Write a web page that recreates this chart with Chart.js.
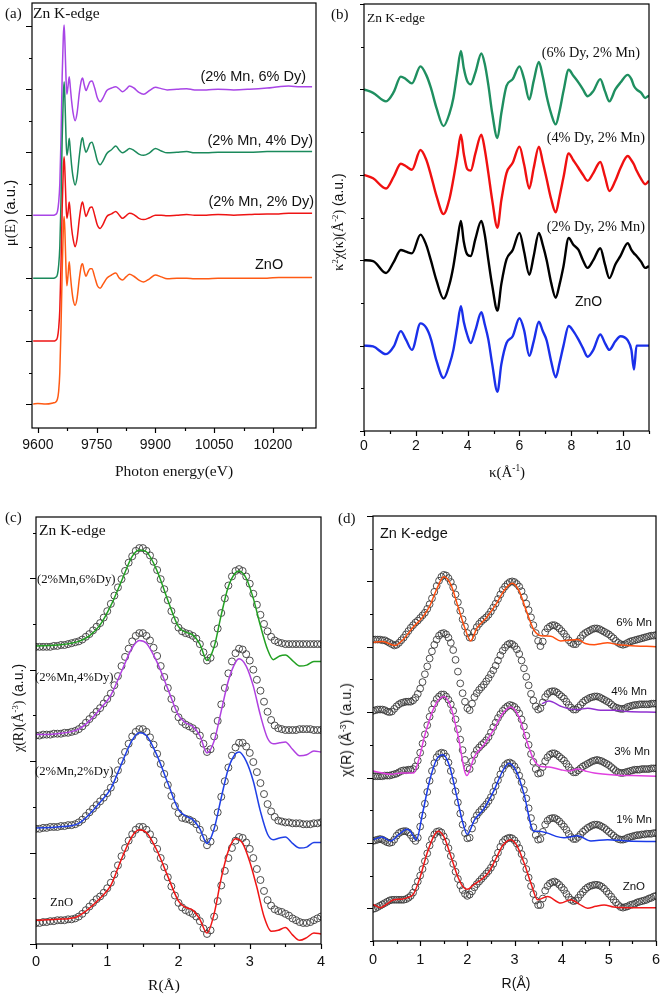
<!DOCTYPE html>
<html>
<head>
<meta charset="utf-8">
<script src="https://cdn.jsdelivr.net/npm/chart.js@4.4.1/dist/chart.umd.min.js"></script>
<style>
  html, body { margin: 0; padding: 0; background: #fff; }
  #fig { position: relative; width: 661px; height: 994px; overflow: hidden; }
  canvas { position: absolute; }
  .t { position: absolute; white-space: nowrap; line-height: 1; color: #111; }
  .serif { font-family: "Liberation Serif", "DejaVu Serif", serif; }
  .sans { font-family: "Liberation Sans", Arial, sans-serif; }
  .c { transform: translate(-50%, -50%); }
  .rot { transform: translate(-50%, -50%) rotate(-90deg); }
  sup { font-size: 0.62em; vertical-align: 0.55em; line-height: 0; }
</style>
</head>
<body>
<div id="fig">
  <canvas id="chartA" width="320" height="460" style="left:0;top:0"></canvas>
  <canvas id="chartB" width="322" height="465" style="left:332px;top:0"></canvas>
  <canvas id="chartC" width="327" height="980" style="left:0;top:0"></canvas>
  <canvas id="chartD" width="321" height="480" style="left:340px;top:500px"></canvas>

  <!-- panel (a) -->
  <div class="t serif" style="left:5px;top:6px;font-size:15px">(a)</div>
  <div class="t serif" style="left:33px;top:5px;font-size:15.5px">Zn K-edge</div>
  <div class="t sans" style="right:355px;top:69px;font-size:14.5px">(2% Mn, 6% Dy)</div>
  <div class="t sans" style="right:348px;top:133px;font-size:14.5px">(2% Mn, 4% Dy)</div>
  <div class="t sans" style="right:347px;top:194px;font-size:14.5px">(2% Mn, 2% Dy)</div>
  <div class="t sans" style="left:255px;top:257px;font-size:14.5px">ZnO</div>
  <div class="t rot" style="left:10px;top:213px;font-size:15px"><span class="serif">μ(E)</span><span class="sans"> (a.u.)</span></div>
  <div class="t serif c" style="left:174px;top:471px;font-size:15.5px">Photon energy(eV)</div>

  <!-- panel (b) -->
  <div class="t serif" style="left:331px;top:7px;font-size:15px">(b)</div>
  <div class="t serif" style="left:367px;top:11px;font-size:13.5px">Zn K-edge</div>
  <div class="t serif" style="right:21px;top:45px;font-size:14.3px">(6% Dy, 2% Mn)</div>
  <div class="t serif" style="right:16px;top:130px;font-size:14.3px">(4% Dy, 2% Mn)</div>
  <div class="t serif" style="right:16px;top:219px;font-size:14.3px">(2% Dy, 2% Mn)</div>
  <div class="t sans" style="left:575px;top:294px;font-size:14px">ZnO</div>
  <div class="t rot" style="left:338px;top:222px;font-size:14px"><span class="serif">κ<sup>2</sup>χ(κ)(Å<sup>-2</sup>)</span><span class="sans"> (a.u.)</span></div>
  <div class="t serif c" style="left:507px;top:472px;font-size:15px">κ(Å<sup>-1</sup>)</div>

  <!-- panel (c) -->
  <div class="t serif" style="left:5px;top:510px;font-size:15px">(c)</div>
  <div class="t serif" style="left:39px;top:522px;font-size:15.5px">Zn K-edge</div>
  <div class="t serif" style="left:37px;top:573px;font-size:12.7px">(2%Mn,6%Dy)</div>
  <div class="t serif" style="left:35px;top:671px;font-size:12.7px">(2%Mn,4%Dy)</div>
  <div class="t serif" style="left:35px;top:765px;font-size:12.7px">(2%Mn,2%Dy)</div>
  <div class="t serif" style="left:50px;top:896px;font-size:12.7px">ZnO</div>
  <div class="t rot" style="left:18px;top:708px;font-size:14px"><span class="serif">χ(R)(Å<sup>-3</sup>)</span><span class="sans"> (a.u.)</span></div>
  <div class="t serif c" style="left:164px;top:985px;font-size:15.5px">R(Å)</div>

  <!-- panel (d) -->
  <div class="t serif" style="left:338px;top:511px;font-size:15px">(d)</div>
  <div class="t sans" style="left:380px;top:526px;font-size:14.5px">Zn K-edge</div>
  <div class="t sans" style="right:9px;top:617px;font-size:11.5px">6% Mn</div>
  <div class="t sans" style="right:14px;top:686px;font-size:11.5px">4% Mn</div>
  <div class="t sans" style="right:11px;top:746px;font-size:11.5px">3% Mn</div>
  <div class="t sans" style="right:9px;top:814px;font-size:11.5px">1% Mn</div>
  <div class="t sans" style="right:16px;top:881px;font-size:11.5px">ZnO</div>
  <div class="t sans rot" style="left:346px;top:730px;font-size:14px">χ(R) (Å<sup>-3</sup>) (a.u.)</div>
  <div class="t sans c" style="left:516px;top:983px;font-size:14px">R(Å)</div>
</div>

<script>
// ---------- (a) XANES, normalised and stacked ----------
const energyA = [9588, 9600, 9620, 9640, 9645, 9650, 9653, 9656, 9659, 9662, 9665, 9667, 9669, 9672, 9674, 9677, 9680, 9683, 9686, 9690,
    9695, 9700, 9706, 9711, 9714, 9718, 9723, 9728, 9733, 9738, 9745, 9752, 9759, 9766, 9776, 9788, 9799, 9808, 9816, 9825,
    9834, 9845, 9858, 9870, 9885, 9900, 9915, 9930, 9955, 9980, 10000, 10030, 10060, 10100, 10140, 10185, 10215, 10240, 10270, 10300];
const muDy6 = [3.0, 3.0, 3.0, 3.0, 3.01, 3.06, 3.2, 3.5, 4.2, 5.2, 5.85, 6.02, 5.75, 5.15, 4.92, 5.05, 5.2, 5.02, 4.82, 4.62,
    4.5, 4.62, 4.95, 5.14, 5.18, 5.08, 4.98, 5.05, 5.12, 5.13, 5.02, 4.86, 4.8, 4.86, 4.98, 5.02, 5.04, 5.0, 4.96, 5.0,
    5.05, 5.02, 4.95, 4.92, 4.98, 5.03, 5.01, 4.99, 5.0, 5.01, 4.99, 4.99, 5.0, 4.99, 5.0, 5.02, 5.04, 5.05, 5.04, 5.04];
const muDy4 = [2.0, 2.0, 2.0, 2.0, 2.01, 2.06, 2.2, 2.5, 3.2, 4.2, 4.9, 5.12, 4.85, 4.2, 3.95, 4.05, 4.22, 4.02, 3.8, 3.6,
    3.48, 3.6, 3.95, 4.18, 4.23, 4.1, 4.0, 4.06, 4.14, 4.16, 4.03, 3.86, 3.8, 3.86, 3.98, 4.04, 4.1, 4.03, 3.99, 4.02,
    4.06, 4.03, 3.97, 3.95, 3.99, 4.06, 4.02, 3.99, 4.0, 4.01, 3.99, 3.99, 4.0, 4.0, 4.0, 4.01, 4.01, 4.01, 4.01, 4.01];
const muDy2 = [1.0, 1.0, 1.0, 1.0, 1.01, 1.06, 1.2, 1.5, 2.2, 3.1, 3.75, 3.93, 3.7, 3.15, 2.95, 3.05, 3.21, 3.02, 2.8, 2.62,
    2.5, 2.62, 2.95, 3.16, 3.21, 3.1, 2.98, 3.05, 3.12, 3.13, 3.0, 2.84, 2.79, 2.85, 2.98, 3.02, 3.06, 3.0, 2.95, 2.99,
    3.03, 3.01, 2.95, 2.93, 2.96, 3.0, 3.0, 2.99, 3.0, 3.01, 3.0, 3.0, 3.01, 3.0, 3.01, 3.02, 3.02, 3.03, 3.03, 3.03];
const muZnO = [0.0, 0.01, 0.0, 0.02, 0.03, 0.08, 0.2, 0.5, 1.2, 2.1, 2.8, 2.98, 2.75, 2.1, 1.88, 2.05, 2.26, 2.05, 1.85, 1.66,
    1.57, 1.68, 2.0, 2.2, 2.23, 2.12, 2.03, 2.1, 2.15, 2.15, 2.02, 1.88, 1.84, 1.9, 2.0, 2.05, 2.08, 2.0, 1.97, 2.02,
    2.06, 2.03, 1.97, 1.94, 1.99, 2.05, 2.02, 1.99, 2.0, 2.0, 1.99, 1.99, 2.0, 2.0, 2.0, 2.0, 2.01, 2.01, 2.01, 2.01];

// ---------- (b) k^2 chi(k), stacked ----------
const kGrid = [0, 0.35, 0.85, 1.15, 1.42, 1.62, 1.85, 2.18, 2.4, 2.58, 2.8, 3.07, 3.3, 3.45, 3.6, 3.74, 3.85, 3.98, 4.12, 4.3,
    4.53, 4.66, 4.8, 4.95, 5.15, 5.3, 5.5, 5.74, 6.0, 6.18, 6.38, 6.55, 6.75, 6.9, 7.05, 7.22, 7.4, 7.55, 7.7, 7.9,
    8.08, 8.28, 8.45, 8.63, 8.85, 9.12, 9.3, 9.47, 9.7, 9.9, 10.18, 10.32, 10.42, 10.52, 10.7, 10.85, 11.0];
const chiDy6 = [3.0, 2.96, 2.86, 2.97, 3.15, 3.12, 3.07, 3.27, 3.17, 3.02, 2.78, 2.57, 2.72, 2.9, 3.2, 3.45, 3.25, 3.1, 3.06, 3.2,
    3.42, 3.3, 3.05, 2.72, 2.43, 2.72, 3.04, 3.12, 3.27, 3.12, 2.88, 3.1, 3.32, 3.15, 2.92, 2.72, 2.59, 2.75, 2.98, 3.23,
    3.16, 3.08, 3.0, 2.92, 2.98, 3.12, 2.98, 2.86, 3.0, 3.08, 3.17, 3.12, 3.04, 3.0, 2.96, 2.9, 2.93];
const chiDy4 = [2.0, 1.96, 1.84, 1.98, 2.13, 2.1, 2.06, 2.29, 2.18, 2.0, 1.75, 1.54, 1.72, 1.95, 2.22, 2.47, 2.25, 2.07, 2.05, 2.25,
    2.47, 2.3, 2.02, 1.7, 1.38, 1.7, 2.02, 2.14, 2.33, 2.12, 1.84, 2.08, 2.33, 2.15, 1.95, 1.72, 1.56, 1.75, 1.97, 2.25,
    2.17, 2.08, 2.0, 1.93, 2.02, 2.15, 1.98, 1.81, 1.93, 2.08, 2.22, 2.17, 2.12, 2.05, 1.95, 1.89, 1.93];
const chiDy2 = [1.0, 0.99, 0.85, 0.98, 1.12, 1.1, 1.08, 1.3, 1.18, 1.0, 0.76, 0.55, 0.72, 0.93, 1.22, 1.46, 1.22, 1.07, 1.05, 1.25,
    1.46, 1.3, 1.0, 0.7, 0.41, 0.72, 1.01, 1.12, 1.32, 1.1, 0.83, 1.05, 1.32, 1.18, 1.0, 0.74, 0.56, 0.72, 0.93, 1.26,
    1.18, 1.12, 1.0, 0.91, 1.0, 1.14, 0.95, 0.79, 0.95, 1.05, 1.2, 1.12, 1.08, 1.05, 0.98, 0.91, 0.93];
const chiZnO = [0.0, -0.01, -0.1, -0.01, 0.17, 0.07, -0.05, 0.26, 0.21, 0.08, -0.18, -0.38, -0.22, -0.05, 0.22, 0.46, 0.28, 0.13, 0.03, 0.18,
    0.39, 0.25, 0.07, -0.22, -0.54, -0.22, 0.03, 0.11, 0.32, 0.18, -0.12, 0.05, 0.28, 0.17, 0.06, -0.18, -0.37, -0.2, 0.0, 0.23,
    0.17, 0.07, -0.03, -0.13, -0.05, 0.13, 0.03, -0.05, 0.05, 0.11, 0.06, -0.05, -0.28, 0.0, 0.0, 0.0, 0.0];

// ---------- (c) |chi(R)| data (circles) and fits, Dy series ----------
const rGridC = [0, 0.05, 0.1, 0.15, 0.2, 0.25, 0.3, 0.35, 0.4, 0.45, 0.5, 0.55, 0.6, 0.65, 0.7, 0.75, 0.8, 0.85, 0.9, 0.95,
    1, 1.05, 1.1, 1.15, 1.2, 1.25, 1.3, 1.35, 1.4, 1.45, 1.5, 1.55, 1.6, 1.65, 1.7, 1.75, 1.8, 1.85, 1.9, 1.95,
    2, 2.05, 2.1, 2.15, 2.2, 2.25, 2.3, 2.35, 2.4, 2.45, 2.5, 2.55, 2.6, 2.65, 2.7, 2.75, 2.8, 2.85, 2.9, 2.95,
    3, 3.05, 3.1, 3.15, 3.2, 3.25, 3.3, 3.35, 3.4, 3.45, 3.5, 3.55, 3.6, 3.65, 3.7, 3.75, 3.8, 3.85, 3.9, 3.95, 4];
const expZnO_c = [0.23, 0.23, 0.24, 0.24, 0.25, 0.25, 0.26, 0.26, 0.26, 0.27, 0.27, 0.28, 0.30, 0.33, 0.37, 0.41, 0.45, 0.49, 0.52, 0.56,
    0.61, 0.67, 0.76, 0.86, 0.96, 1.05, 1.13, 1.20, 1.25, 1.28, 1.28, 1.25, 1.20, 1.13, 1.04, 0.94, 0.84, 0.73, 0.63, 0.53,
    0.45, 0.40, 0.37, 0.35, 0.33, 0.30, 0.25, 0.17, 0.11, 0.15, 0.30, 0.47, 0.64, 0.80, 0.94, 1.05, 1.13, 1.17, 1.16, 1.11,
    1.04, 0.94, 0.82, 0.70, 0.58, 0.48, 0.42, 0.38, 0.36, 0.35, 0.33, 0.31, 0.28, 0.26, 0.24, 0.23, 0.23, 0.24, 0.26, 0.28, 0.30];
const expDy2_c = [1.26, 1.26, 1.27, 1.27, 1.28, 1.28, 1.28, 1.29, 1.29, 1.30, 1.30, 1.31, 1.33, 1.36, 1.40, 1.44, 1.48, 1.52, 1.56, 1.60,
    1.65, 1.71, 1.80, 1.90, 2.00, 2.10, 2.19, 2.27, 2.32, 2.35, 2.35, 2.32, 2.26, 2.18, 2.08, 1.97, 1.86, 1.74, 1.62, 1.51,
    1.43, 1.38, 1.37, 1.36, 1.34, 1.31, 1.25, 1.16, 1.08, 1.12, 1.27, 1.44, 1.61, 1.78, 1.93, 2.06, 2.15, 2.20, 2.20, 2.16,
    2.09, 1.99, 1.88, 1.76, 1.64, 1.53, 1.45, 1.39, 1.35, 1.34, 1.33, 1.33, 1.32, 1.32, 1.32, 1.31, 1.31, 1.31, 1.32, 1.32, 1.33];
const expDy4_c = [2.28, 2.28, 2.29, 2.29, 2.29, 2.30, 2.30, 2.30, 2.31, 2.31, 2.32, 2.33, 2.35, 2.38, 2.42, 2.46, 2.50, 2.54, 2.58, 2.63,
    2.68, 2.74, 2.83, 2.93, 3.04, 3.14, 3.23, 3.31, 3.37, 3.40, 3.40, 3.37, 3.32, 3.24, 3.15, 3.04, 2.92, 2.80, 2.68, 2.57,
    2.48, 2.43, 2.40, 2.38, 2.36, 2.33, 2.28, 2.19, 2.10, 2.13, 2.27, 2.44, 2.62, 2.80, 2.96, 3.09, 3.18, 3.23, 3.22, 3.17,
    3.10, 3.00, 2.89, 2.77, 2.65, 2.54, 2.45, 2.39, 2.36, 2.35, 2.34, 2.34, 2.34, 2.34, 2.35, 2.35, 2.35, 2.35, 2.34, 2.34, 2.34];
const expDy6_c = [3.25, 3.25, 3.25, 3.25, 3.25, 3.26, 3.26, 3.27, 3.27, 3.28, 3.29, 3.30, 3.31, 3.33, 3.36, 3.39, 3.43, 3.47, 3.51, 3.57,
    3.64, 3.72, 3.81, 3.90, 3.99, 4.08, 4.17, 4.24, 4.30, 4.33, 4.33, 4.30, 4.25, 4.18, 4.09, 3.99, 3.88, 3.76, 3.64, 3.54,
    3.46, 3.42, 3.40, 3.39, 3.37, 3.34, 3.28, 3.19, 3.10, 3.13, 3.28, 3.45, 3.62, 3.78, 3.92, 4.02, 4.08, 4.10, 4.08, 4.02,
    3.94, 3.83, 3.71, 3.60, 3.50, 3.42, 3.36, 3.32, 3.30, 3.29, 3.28, 3.28, 3.28, 3.28, 3.28, 3.28, 3.28, 3.28, 3.28, 3.28, 3.28];
const fitZnO_c = [[0, 0.26], [0.3, 0.27], [0.55, 0.29], [0.7, 0.36], [0.9, 0.5], [1.05, 0.64], [1.2, 0.93], [1.35, 1.18], [1.45, 1.25], [1.55, 1.22],
    [1.7, 1.02], [1.85, 0.74], [2.0, 0.47], [2.1, 0.4], [2.2, 0.37], [2.3, 0.27], [2.4, 0.12], [2.5, 0.33], [2.6, 0.72], [2.7, 1.02],
    [2.8, 1.15], [2.9, 1.1], [3.0, 0.9], [3.1, 0.62], [3.2, 0.3], [3.3, 0.14], [3.4, 0.15], [3.5, 0.18], [3.6, 0.1], [3.7, 0.04],
    [3.8, 0.07], [3.9, 0.12], [4.0, 0.11]];
const fitDy2_c = [[0, 1.27], [0.3, 1.28], [0.6, 1.32], [0.75, 1.42], [0.9, 1.55], [1.05, 1.7], [1.2, 1.97], [1.35, 2.23], [1.45, 2.31], [1.55, 2.28],
    [1.7, 2.06], [1.85, 1.76], [2.0, 1.47], [2.1, 1.4], [2.2, 1.36], [2.3, 1.26], [2.4, 1.1], [2.5, 1.26], [2.6, 1.6], [2.7, 1.92],
    [2.8, 2.08], [2.85, 2.1], [2.95, 2.0], [3.05, 1.78], [3.15, 1.45], [3.25, 1.2], [3.33, 1.14], [3.42, 1.16], [3.5, 1.17], [3.6, 1.1],
    [3.7, 1.05], [3.8, 1.06], [3.9, 1.11], [4.0, 1.11]];
const fitDy4_c = [[0, 2.29], [0.3, 2.3], [0.6, 2.35], [0.75, 2.44], [0.9, 2.57], [1.05, 2.72], [1.2, 2.98], [1.35, 3.24], [1.45, 3.32], [1.55, 3.29],
    [1.7, 3.08], [1.85, 2.79], [2.0, 2.5], [2.1, 2.42], [2.2, 2.38], [2.3, 2.28], [2.4, 2.09], [2.5, 2.22], [2.6, 2.55], [2.7, 2.88],
    [2.8, 3.08], [2.85, 3.12], [2.95, 3.04], [3.05, 2.82], [3.15, 2.5], [3.25, 2.25], [3.33, 2.19], [3.42, 2.2], [3.5, 2.21], [3.6, 2.13],
    [3.7, 2.06], [3.8, 2.07], [3.9, 2.11], [4.0, 2.1]];
const fitDy6_c = [[0, 3.26], [0.3, 3.27], [0.6, 3.31], [0.75, 3.37], [0.9, 3.49], [1.05, 3.7], [1.2, 3.97], [1.35, 4.24], [1.45, 4.31], [1.55, 4.29],
    [1.7, 4.08], [1.85, 3.76], [2.0, 3.47], [2.1, 3.41], [2.2, 3.38], [2.3, 3.28], [2.4, 3.1], [2.5, 3.25], [2.6, 3.6], [2.7, 3.91],
    [2.8, 4.06], [2.85, 4.08], [2.95, 4.0], [3.05, 3.78], [3.15, 3.48], [3.25, 3.22], [3.33, 3.11], [3.42, 3.15], [3.5, 3.16], [3.6, 3.1],
    [3.7, 3.04], [3.8, 3.05], [3.9, 3.09], [4.0, 3.09]];

// ---------- (d) |chi(R)| data (circles) and fits, Mn series ----------
const rGridD = [0, 0.05, 0.1, 0.15, 0.2, 0.25, 0.3, 0.35, 0.4, 0.45, 0.5, 0.55, 0.6, 0.65, 0.7, 0.75, 0.8, 0.85, 0.9, 0.95,
    1, 1.05, 1.1, 1.15, 1.2, 1.25, 1.3, 1.35, 1.4, 1.45, 1.5, 1.55, 1.6, 1.65, 1.7, 1.75, 1.8, 1.85, 1.9, 1.95,
    2, 2.05, 2.1, 2.15, 2.2, 2.25, 2.3, 2.35, 2.4, 2.45, 2.5, 2.55, 2.6, 2.65, 2.7, 2.75, 2.8, 2.85, 2.9, 2.95,
    3, 3.05, 3.1, 3.15, 3.2, 3.25, 3.3, 3.35, 3.4, 3.45, 3.5, 3.55, 3.6, 3.65, 3.7, 3.75, 3.8, 3.85, 3.9, 3.95,
    4, 4.05, 4.1, 4.15, 4.2, 4.25, 4.3, 4.35, 4.4, 4.45, 4.5, 4.55, 4.6, 4.65, 4.7, 4.75, 4.8, 4.85, 4.9, 4.95,
    5, 5.05, 5.1, 5.15, 5.2, 5.25, 5.3, 5.35, 5.4, 5.45, 5.5, 5.55, 5.6, 5.65, 5.7, 5.75, 5.8, 5.85, 5.9, 5.95, 6];
const expZnO_d = [-0.01, 0.00, 0.02, 0.04, 0.06, 0.08, 0.10, 0.12, 0.13, 0.13, 0.13, 0.13, 0.13, 0.13, 0.14, 0.16, 0.19, 0.24, 0.32, 0.41,
    0.50, 0.60, 0.72, 0.84, 0.96, 1.06, 1.13, 1.17, 1.18, 1.16, 1.10, 1.02, 0.92, 0.80, 0.68, 0.56, 0.45, 0.35, 0.28, 0.22,
    0.19, 0.21, 0.26, 0.32, 0.37, 0.41, 0.45, 0.49, 0.53, 0.57, 0.62, 0.68, 0.76, 0.85, 0.94, 1.01, 1.05, 1.07, 1.08, 1.07,
    1.04, 0.99, 0.92, 0.83, 0.72, 0.60, 0.47, 0.34, 0.22, 0.12, 0.05, 0.05, 0.15, 0.27, 0.34, 0.38, 0.40, 0.41, 0.39, 0.36,
    0.32, 0.28, 0.22, 0.17, 0.13, 0.11, 0.12, 0.16, 0.21, 0.25, 0.29, 0.32, 0.34, 0.35, 0.36, 0.36, 0.35, 0.33, 0.30, 0.26,
    0.22, 0.18, 0.13, 0.09, 0.05, 0.02, 0.01, 0.02, 0.03, 0.05, 0.06, 0.07, 0.09, 0.10, 0.11, 0.12, 0.13, 0.15, 0.16, 0.18, 0.19];
const expMn1_d = [1.03, 1.04, 1.05, 1.06, 1.05, 1.03, 1.01, 1.00, 1.01, 1.05, 1.11, 1.15, 1.17, 1.18, 1.18, 1.16, 1.12, 1.07, 1.03, 1.08,
    1.25, 1.42, 1.60, 1.78, 1.95, 2.10, 2.22, 2.31, 2.36, 2.38, 2.37, 2.32, 2.23, 2.10, 1.95, 1.79, 1.62, 1.45, 1.28, 1.15,
    1.07, 1.08, 1.22, 1.35, 1.42, 1.47, 1.51, 1.55, 1.59, 1.64, 1.70, 1.78, 1.87, 1.96, 2.05, 2.13, 2.19, 2.22, 2.23, 2.21,
    2.17, 2.11, 2.03, 1.93, 1.81, 1.68, 1.53, 1.38, 1.24, 1.12, 1.05, 1.06, 1.17, 1.28, 1.34, 1.37, 1.38, 1.38, 1.36, 1.33,
    1.29, 1.25, 1.20, 1.14, 1.09, 1.06, 1.06, 1.09, 1.13, 1.17, 1.20, 1.23, 1.25, 1.27, 1.28, 1.28, 1.27, 1.25, 1.23, 1.20,
    1.17, 1.14, 1.11, 1.08, 1.06, 1.05, 1.05, 1.06, 1.08, 1.09, 1.10, 1.11, 1.12, 1.12, 1.13, 1.13, 1.14, 1.14, 1.14, 1.15, 1.15];
const expMn3_d = [2.02, 2.02, 2.02, 2.02, 2.02, 2.03, 2.03, 2.03, 2.04, 2.05, 2.06, 2.08, 2.10, 2.11, 2.11, 2.12, 2.12, 2.13, 2.17, 2.26,
    2.38, 2.52, 2.66, 2.80, 2.93, 3.04, 3.13, 3.20, 3.24, 3.27, 3.27, 3.24, 3.19, 3.12, 3.02, 2.89, 2.74, 2.58, 2.42, 2.27,
    2.15, 2.13, 2.25, 2.35, 2.42, 2.46, 2.50, 2.53, 2.57, 2.62, 2.69, 2.77, 2.84, 2.91, 2.97, 3.02, 3.06, 3.09, 3.11, 3.10,
    3.08, 3.04, 2.98, 2.89, 2.78, 2.64, 2.50, 2.36, 2.24, 2.13, 2.06, 2.07, 2.16, 2.25, 2.31, 2.35, 2.37, 2.37, 2.35, 2.32,
    2.29, 2.26, 2.21, 2.16, 2.11, 2.08, 2.08, 2.11, 2.14, 2.17, 2.19, 2.21, 2.23, 2.25, 2.26, 2.27, 2.26, 2.25, 2.23, 2.21,
    2.19, 2.16, 2.13, 2.10, 2.08, 2.07, 2.07, 2.08, 2.09, 2.10, 2.11, 2.12, 2.12, 2.12, 2.13, 2.13, 2.13, 2.13, 2.14, 2.14, 2.14];
const expMn4_d = [3.02, 3.03, 3.04, 3.04, 3.04, 3.03, 3.01, 3.00, 3.01, 3.05, 3.09, 3.12, 3.14, 3.15, 3.16, 3.16, 3.16, 3.18, 3.22, 3.28,
    3.36, 3.46, 3.58, 3.70, 3.82, 3.93, 4.03, 4.11, 4.17, 4.20, 4.21, 4.19, 4.14, 4.06, 3.95, 3.80, 3.62, 3.44, 3.29, 3.16,
    3.06, 3.03, 3.13, 3.23, 3.29, 3.34, 3.38, 3.42, 3.47, 3.52, 3.58, 3.64, 3.71, 3.79, 3.87, 3.94, 3.99, 4.03, 4.05, 4.04,
    4.01, 3.96, 3.89, 3.79, 3.67, 3.54, 3.41, 3.28, 3.18, 3.09, 3.04, 3.06, 3.15, 3.23, 3.28, 3.31, 3.32, 3.32, 3.30, 3.27,
    3.24, 3.21, 3.16, 3.11, 3.07, 3.04, 3.04, 3.07, 3.11, 3.15, 3.18, 3.20, 3.22, 3.23, 3.24, 3.24, 3.23, 3.21, 3.19, 3.17,
    3.15, 3.12, 3.09, 3.07, 3.06, 3.05, 3.05, 3.06, 3.08, 3.09, 3.10, 3.11, 3.11, 3.12, 3.12, 3.12, 3.12, 3.12, 3.13, 3.13, 3.13];
const expMn6_d = [4.11, 4.11, 4.11, 4.11, 4.10, 4.10, 4.08, 4.06, 4.04, 4.02, 4.03, 4.06, 4.10, 4.14, 4.19, 4.24, 4.29, 4.33, 4.37, 4.40,
    4.44, 4.48, 4.52, 4.58, 4.65, 4.74, 4.84, 4.93, 5.01, 5.07, 5.10, 5.09, 5.05, 4.99, 4.91, 4.80, 4.68, 4.55, 4.42, 4.31,
    4.21, 4.14, 4.14, 4.23, 4.30, 4.35, 4.39, 4.42, 4.45, 4.49, 4.54, 4.60, 4.66, 4.73, 4.80, 4.87, 4.92, 4.96, 4.99, 5.00,
    4.99, 4.96, 4.92, 4.85, 4.76, 4.66, 4.56, 4.45, 4.33, 4.21, 4.09, 4.01, 4.08, 4.22, 4.28, 4.31, 4.33, 4.33, 4.31, 4.28,
    4.24, 4.20, 4.15, 4.10, 4.06, 4.04, 4.04, 4.08, 4.13, 4.18, 4.21, 4.23, 4.25, 4.27, 4.28, 4.28, 4.27, 4.25, 4.23, 4.21,
    4.19, 4.16, 4.13, 4.09, 4.06, 4.04, 4.03, 4.04, 4.06, 4.08, 4.09, 4.10, 4.11, 4.12, 4.13, 4.14, 4.15, 4.16, 4.17, 4.17, 4.18];
const fitZnO_d = [[0, 0.06], [0.16, 0.01], [0.3, 0.07], [0.44, 0.13], [0.6, 0.14], [0.72, 0.16], [0.86, 0.22], [1.0, 0.48], [1.15, 0.85], [1.3, 1.12],
    [1.38, 1.18], [1.5, 1.1], [1.65, 0.8], [1.8, 0.48], [1.92, 0.32], [2.0, 0.29], [2.15, 0.37], [2.3, 0.44], [2.45, 0.55], [2.6, 0.75],
    [2.75, 0.96], [2.92, 1.05], [3.05, 0.96], [3.2, 0.7], [3.35, 0.38], [3.49, 0.13], [3.7, 0.18], [3.98, 0.08], [4.19, 0.13], [4.38, 0.06],
    [4.55, 0.0], [4.72, 0.03], [4.9, 0.05], [5.1, 0.02], [5.4, 0.01], [6.0, 0.01]];
const fitMn1_d = [[0, 1.05], [0.19, 1.09], [0.37, 1.03], [0.55, 1.13], [0.72, 1.21], [0.79, 1.18], [0.92, 1.05], [1.05, 1.45], [1.2, 1.95], [1.35, 2.28],
    [1.49, 2.35], [1.62, 2.18], [1.78, 1.7], [1.9, 1.32], [2.0, 1.13], [2.15, 1.35], [2.35, 1.52], [2.55, 1.78], [2.75, 2.1], [2.88, 2.22],
    [3.05, 2.08], [3.2, 1.75], [3.41, 1.18], [3.52, 1.18], [3.7, 1.15], [3.88, 1.1], [4.05, 1.08], [4.34, 1.11], [4.62, 1.03], [4.97, 1.05],
    [5.4, 1.03], [6.0, 1.02]];
const fitMn3_d = [[0, 2.1], [0.2, 2.07], [0.37, 2.05], [0.6, 2.07], [0.86, 2.07], [0.97, 2.27], [1.1, 2.65], [1.3, 3.08], [1.5, 3.24], [1.65, 3.08],
    [1.8, 2.65], [1.99, 2.03], [2.15, 2.32], [2.35, 2.5], [2.55, 2.72], [2.75, 2.98], [2.92, 3.08], [3.1, 2.92], [3.25, 2.58], [3.41, 2.27],
    [3.56, 2.17], [3.73, 2.16], [3.98, 2.12], [4.15, 2.1], [4.34, 2.13], [4.5, 2.1], [4.69, 2.07], [5.12, 2.04], [5.5, 2.03], [6.0, 2.02]];
const fitMn4_d = [[3.58, 3.13], [3.73, 3.17], [3.98, 3.09], [4.15, 3.05], [4.34, 3.04], [4.55, 3.06], [4.83, 3.03], [5.1, 3.03], [5.4, 3.01], [6.0, 3.0]];
const fitMn6_d = [[0, 4.07], [0.2, 4.08], [0.47, 4.02], [0.65, 4.12], [0.85, 4.3], [1.05, 4.45], [1.2, 4.62], [1.35, 4.88], [1.5, 5.07], [1.65, 4.95],
    [1.8, 4.62], [1.95, 4.28], [2.07, 4.09], [2.2, 4.28], [2.4, 4.44], [2.6, 4.64], [2.8, 4.88], [2.95, 4.97], [3.1, 4.85], [3.25, 4.55],
    [3.41, 4.26], [3.56, 4.17], [3.77, 4.16], [3.98, 4.09], [4.15, 4.1], [4.34, 4.11], [4.5, 4.05], [4.69, 4.03], [4.85, 4.05], [4.97, 4.06],
    [5.2, 4.03], [5.4, 4.02], [6.0, 4.0]];

Chart.defaults.font.family = '"Liberation Sans", Arial, sans-serif';
Chart.defaults.color = '#111';

function isMultiple(v, m) {
    const q = v / m;
    return Math.abs(q - Math.round(q)) < 1e-6;
}

// box around the plot plus outward major / minor ticks
const frameTicks = {
    id: 'frameTicks',
    afterDraw(chart, args, opts) {
        const { ctx, chartArea: a, scales: { x, y } } = chart;
        ctx.save();
        ctx.strokeStyle = '#000';
        ctx.lineWidth = 1.2;
        ctx.strokeRect(a.left, a.top, a.right - a.left, a.bottom - a.top);
        ctx.beginPath();
        x.ticks.forEach(t => {
            const px = Math.round(x.getPixelForValue(t.value)) + 0.5;
            const len = isMultiple(t.value, opts.xMajor) ? opts.xLen[0] : opts.xLen[1];
            ctx.moveTo(px, a.bottom);
            ctx.lineTo(px, a.bottom + len);
        });
        y.ticks.forEach(t => {
            const py = Math.round(y.getPixelForValue(t.value)) + 0.5;
            const len = isMultiple(t.value, opts.yMajor) ? opts.yLen[0] : opts.yLen[1];
            ctx.moveTo(a.left, py);
            ctx.lineTo(a.left - len, py);
        });
        ctx.stroke();
        ctx.restore();
    }
};

function xy(xs, ys) {
    return xs.map((x, i) => ({ x: x, y: ys[i] }));
}
function pairs(list) {
    return list.map(p => ({ x: p[0], y: p[1] }));
}
function lineSet(data, color, width) {
    return {
        data: data, borderColor: color, borderWidth: width, pointRadius: 0, fill: false,
        cubicInterpolationMode: 'monotone', order: 0
    };
}
function circleSet(data, r) {
    return {
        data: data, showLine: false, pointStyle: 'circle', pointRadius: r, pointBorderWidth: 0.9,
        pointBorderColor: '#3a3a3a', pointBackgroundColor: 'rgba(255,255,255,0)', order: 1
    };
}

function makeChart(id, c) {
    return new Chart(document.getElementById(id), {
        type: 'line',
        data: { datasets: c.datasets },
        options: {
            responsive: false, animation: false,
            layout: { padding: c.pad },
            plugins: {
                legend: { display: false }, tooltip: { enabled: false },
                frameTicks: { xMajor: c.xMajor, yMajor: c.yMajor, xLen: c.xLen, yLen: c.yLen }
            },
            scales: {
                x: {
                    type: 'linear', min: c.xMin, max: c.xMax,
                    afterFit: s => { s.height = c.xAxisH; s.paddingLeft = 0; s.paddingRight = 0; },
                    grid: { display: false, drawTicks: false }, border: { display: false },
                    ticks: {
                        stepSize: c.xStep, autoSkip: false, includeBounds: false, maxRotation: 0,
                        padding: c.tickPad, color: '#111', font: { size: c.tickSize },
                        callback: v => isMultiple(v, c.xMajor) ? String(v) : ''
                    }
                },
                y: {
                    type: 'linear', min: c.yMin, max: c.yMax,
                    afterFit: s => { s.width = c.yAxisW; s.paddingTop = 0; s.paddingBottom = 0; },
                    grid: { display: false, drawTicks: false }, border: { display: false },
                    ticks: { stepSize: 0.5, display: false, includeBounds: false }
                }
            }
        },
        plugins: [frameTicks]
    });
}

// (a)
makeChart('chartA', {
    pad: { top: 3, right: 4, left: 0, bottom: 0 }, xAxisH: 32, yAxisW: 32,
    xMin: 9585, xMax: 10310, xStep: 75, xMajor: 150, yMin: -0.38, yMax: 6.37, yMajor: 1,
    xLen: [5, 3], yLen: [6, 3], tickPad: 9, tickSize: 14,
    datasets: [
        lineSet(xy(energyA, muZnO), '#ff5a14', 1.5),
        lineSet(xy(energyA, muDy2), '#ee1414', 1.5),
        lineSet(xy(energyA, muDy4), '#1b8a5c', 1.5),
        lineSet(xy(energyA, muDy6), '#a845e6', 1.5)
    ]
});

// (b)
makeChart('chartB', {
    pad: { top: 4, right: 5, left: 0, bottom: 0 }, xAxisH: 34, yAxisW: 32,
    xMin: 0, xMax: 11, xStep: 1, xMajor: 2, yMin: -1, yMax: 4, yMajor: 1,
    xLen: [5, 3], yLen: [4, 3], tickPad: 7, tickSize: 14,
    datasets: [
        lineSet(xy(kGrid, chiZnO), '#1a30ea', 2.4),
        lineSet(xy(kGrid, chiDy2), '#000000', 2.4),
        lineSet(xy(kGrid, chiDy4), '#f01010', 2.4),
        lineSet(xy(kGrid, chiDy6), '#1f8f60', 2.4)
    ]
});

// (c)
makeChart('chartC', {
    pad: { top: 517, right: 6, left: 0, bottom: 0 }, xAxisH: 36, yAxisW: 36,
    xMin: 0, xMax: 4, xStep: 0.5, xMajor: 1, yMin: 0, yMax: 4.67, yMajor: 1,
    xLen: [5, 3], yLen: [6, 3], tickPad: 9, tickSize: 14.5,
    datasets: [
        lineSet(pairs(fitZnO_c), '#f01515', 1.5),
        lineSet(pairs(fitDy2_c), '#2040e6', 1.5),
        lineSet(pairs(fitDy4_c), '#b040e0', 1.5),
        lineSet(pairs(fitDy6_c), '#22a022', 1.5),
        circleSet(xy(rGridC, expZnO_c), 3.5),
        circleSet(xy(rGridC, expDy2_c), 3.5),
        circleSet(xy(rGridC, expDy4_c), 3.5),
        circleSet(xy(rGridC, expDy6_c), 3.5)
    ]
});

// (d)
makeChart('chartD', {
    pad: { top: 16, right: 5, left: 0, bottom: 0 }, xAxisH: 39, yAxisW: 33,
    xMin: 0, xMax: 6, xStep: 0.5, xMajor: 1, yMin: -0.5, yMax: 6, yMajor: 1,
    xLen: [5, 3], yLen: [6, 3], tickPad: 10, tickSize: 14.5,
    datasets: [
        lineSet(pairs(fitZnO_d), '#f01818', 1.5),
        lineSet(pairs(fitMn1_d), '#1a3ae8', 1.5),
        lineSet(pairs(fitMn3_d), '#e040e0', 1.5),
        lineSet(pairs(fitMn4_d), '#9030d0', 1.5),
        lineSet(pairs(fitMn6_d), '#ff5010', 1.5),
        circleSet(xy(rGridD, expZnO_d), 3.4),
        circleSet(xy(rGridD, expMn1_d), 3.4),
        circleSet(xy(rGridD, expMn3_d), 3.4),
        circleSet(xy(rGridD, expMn4_d), 3.4),
        circleSet(xy(rGridD, expMn6_d), 3.4)
    ]
});
</script>
</body>
</html>
